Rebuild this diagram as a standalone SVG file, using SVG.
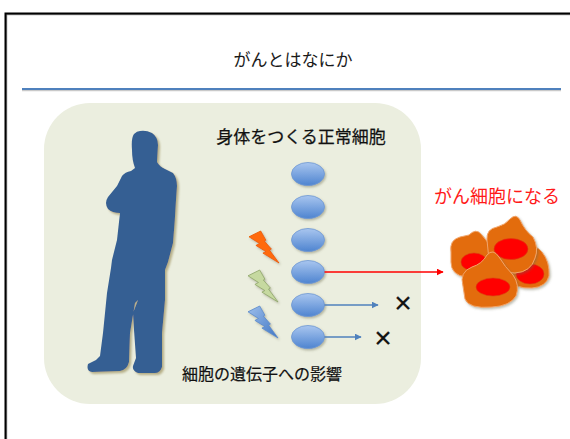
<svg xmlns="http://www.w3.org/2000/svg" width="570" height="439" viewBox="0 0 570 439">
  <defs>
    <style>
      .jp { font-family: "Noto Sans CJK JP", "Noto Sans", sans-serif; }
      .title { font-size: 17px; fill: #1a1a1a; }
      .label { font-size: 17px; fill: #111; stroke: #111; stroke-width: 0.25; }
      .note { font-size: 16px; fill: #111; stroke: #111; stroke-width: 0.2; }
      .red-label { font-size: 18px; fill: #FF1A1A; }
      .cell { fill: url(#cellGrad); stroke: #6E98D2; stroke-width: 0.8; filter: url(#softShadow); }
      .blob { fill: #E36C0A; stroke: #F2A46A; stroke-width: 1; filter: url(#softShadow); }
      .nucleus { fill: #FF0000; stroke: #D84010; stroke-width: 0.6; }
      .cross { font-family: "Liberation Sans", Arial, sans-serif; font-size: 30px; fill: #111; stroke: #111; stroke-width: 0.2; }
    </style>
    <linearGradient id="cellGrad" x1="0" y1="0" x2="0" y2="1">
      <stop offset="0" stop-color="#A9C6EF"/>
      <stop offset="1" stop-color="#4E84D0"/>
    </linearGradient>
    <linearGradient id="boltBlue" x1="0" y1="0" x2="1" y2="1">
      <stop offset="0" stop-color="#9DBEEB"/>
      <stop offset="1" stop-color="#3F76C4"/>
    </linearGradient>
    <filter id="softShadow" x="-20%" y="-20%" width="150%" height="150%">
      <feDropShadow dx="1.2" dy="1.5" stdDeviation="1" flood-color="#6b6b50" flood-opacity="0.45"/>
    </filter>
    <filter id="personShadow" x="-20%" y="-10%" width="150%" height="130%">
      <feDropShadow dx="2" dy="2" stdDeviation="1.2" flood-color="#A89E70" flood-opacity="0.8"/>
    </filter>
    <marker id="arrowRed" viewBox="0 0 10 10" refX="9" refY="5" markerWidth="7" markerHeight="7" orient="auto" markerUnits="userSpaceOnUse">
      <path d="M0,0 L10,5 L0,10 Z" fill="#FF0000"/>
    </marker>
    <marker id="arrowBlue" viewBox="0 0 10 10" refX="9" refY="5" markerWidth="7" markerHeight="7" orient="auto" markerUnits="userSpaceOnUse">
      <path d="M0,0 L10,5 L0,10 Z" fill="#4F81BD"/>
    </marker>
    <path id="bolt" d="M11.7,0 L0,5.8 L10.5,12.5 L6.9,14.4 L16.9,20.6 L13.9,22.1 L30,32 L20.5,19.1 L22.4,18.1 L15.3,10 L16.9,9.2 Z"/>
  </defs>

  <!-- page background and slide frame -->
  <rect x="0" y="0" width="570" height="439" fill="#FFFFFF"/>
  <rect x="6.5" y="14.5" width="600" height="500" fill="none" stroke="#9A9A9A" stroke-width="1.5"/>
  <rect x="5.5" y="13.5" width="600" height="500" fill="none" stroke="#000" stroke-width="2"/>

  <!-- heading -->
  <g id="heading">
    <text class="jp title" x="293" y="58" text-anchor="middle" dominant-baseline="central">がんとはなにか</text>
    <line x1="22" y1="90.5" x2="561" y2="90.5" stroke="#C9C9C9" stroke-width="1.5"/>
    <line x1="22" y1="89" x2="561" y2="89" stroke="#4F81BD" stroke-width="2"/>
  </g>

  <!-- panel -->
  <g id="panel">
    <rect x="44" y="103" width="377" height="301" rx="46" ry="46" fill="#EBEEDF"/>
  </g>

  <!-- human silhouette -->
  <g id="person">
    <path filter="url(#personShadow)" fill="#355F93" d="
      M140,131 Q146,130 152,133 Q158,137 158,145 L157,162 Q160,167 165,169
      L173,173 Q177,178 177,186 L176,200 Q175,220 173,243 L168,262 L165,270
      L165,300 L162,333 L162,367 Q160,373 155,373 L138,373 Q132,371 133,366
      L136,358 L134,330 L133,313 L138,300 L135,303 L130,333 L129,362
      Q127,370 120,371 L92,372 Q86,371 88,364 L96,360 L100,356
      L103,333 L107,293 L111,268 L112,260 L117,240 L120,213
      Q112,213 108,209 Q104,203 108,197 L117,186 L122,176
      Q125,172 131,171 L135,168 Q132,160 132,150 Q131,138 134,134 Q137,131 140,131 Z"/>
  </g>

  <!-- labels in the panel -->
  <g id="label-normal">
    <text class="jp label" x="301" y="135" text-anchor="middle" dominant-baseline="central">身体をつくる正常細胞</text>
  </g>
  <g id="label-genes">
    <text class="jp note" x="262" y="373" text-anchor="middle" dominant-baseline="central">細胞の遺伝子への影響</text>
  </g>

  <!-- lightning bolts -->
  <g id="bolt-orange">
    <use href="#bolt" x="249" y="231" fill="#FF6A0E" stroke="#E85A00" stroke-width="0.8" filter="url(#softShadow)"/>
  </g>
  <g id="bolt-green">
    <use href="#bolt" x="248" y="270" fill="#C6D9A0" stroke="#8FA66A" stroke-width="0.8" filter="url(#softShadow)"/>
  </g>
  <g id="bolt-blue">
    <use href="#bolt" x="248" y="306" fill="url(#boltBlue)" stroke="#5A8ACB" stroke-width="0.8" filter="url(#softShadow)"/>
  </g>

  <!-- normal cells -->
  <g id="cell-1"><ellipse class="cell" cx="308" cy="174" rx="16.5" ry="11.5"/></g>
  <g id="cell-2"><ellipse class="cell" cx="308" cy="207" rx="16.5" ry="11.5"/></g>
  <g id="cell-3"><ellipse class="cell" cx="308" cy="240" rx="16.5" ry="11.5"/></g>
  <g id="cell-4"><ellipse class="cell" cx="308" cy="272" rx="16.5" ry="11.5"/></g>
  <g id="cell-5"><ellipse class="cell" cx="308" cy="305" rx="16.5" ry="11.5"/></g>
  <g id="cell-6"><ellipse class="cell" cx="308" cy="337" rx="16.5" ry="11.5"/></g>

  <!-- connectors -->
  <g id="connectors">
    <line x1="324.5" y1="272" x2="443" y2="272" stroke="#FF0000" stroke-width="1.6" marker-end="url(#arrowRed)"/>
    <line x1="324.5" y1="305" x2="378" y2="305" stroke="#4F81BD" stroke-width="1.6" marker-end="url(#arrowBlue)"/>
    <line x1="324.5" y1="337" x2="361" y2="337" stroke="#4F81BD" stroke-width="1.6" marker-end="url(#arrowBlue)"/>
  </g>

  <!-- outcome marks -->
  <g id="mark-1"><text class="cross" x="403" y="302" text-anchor="middle" dominant-baseline="central">×</text></g>
  <g id="mark-2"><text class="cross" x="383" y="337" text-anchor="middle" dominant-baseline="central">×</text></g>

  <!-- cancer cells -->
  <g id="label-cancer">
    <text class="jp red-label" x="497" y="195" text-anchor="middle" dominant-baseline="central">がん細胞になる</text>
  </g>
  <g id="cancer-cells">
    <path class="blob" d="M451,252 Q449,240 460,237 L469,235 Q476,228 481,234 Q489,242 491,250 L491,270 Q481,279 466,277 Q451,275 451,262 Z"/>
    <ellipse class="nucleus" cx="474" cy="262" rx="13" ry="9"/>
    <path class="blob" d="M509,262 Q511,250 525,248 Q536,244 542,252 Q550,262 549,276 Q546,287 532,288 Q514,289 509,278 Z"/>
    <ellipse class="nucleus" cx="530" cy="274" rx="14" ry="10"/>
    <path class="blob" d="M487,240 Q486,229 497,227 Q505,225 510,219 Q516,213 520,220 Q525,231 533,237 Q539,248 535,258 Q531,272 515,273 Q494,273 489,260 Z"/>
    <ellipse class="nucleus" cx="511" cy="249" rx="17" ry="10.5"/>
    <path class="blob" d="M463,286 Q459,272 472,267 Q482,264 487,255 Q493,248 499,257 Q505,267 513,275 Q520,285 516,296 Q510,306 492,307 Q469,309 465,299 Z"/>
    <ellipse class="nucleus" cx="493" cy="287" rx="17" ry="9"/>
  </g>
</svg>
